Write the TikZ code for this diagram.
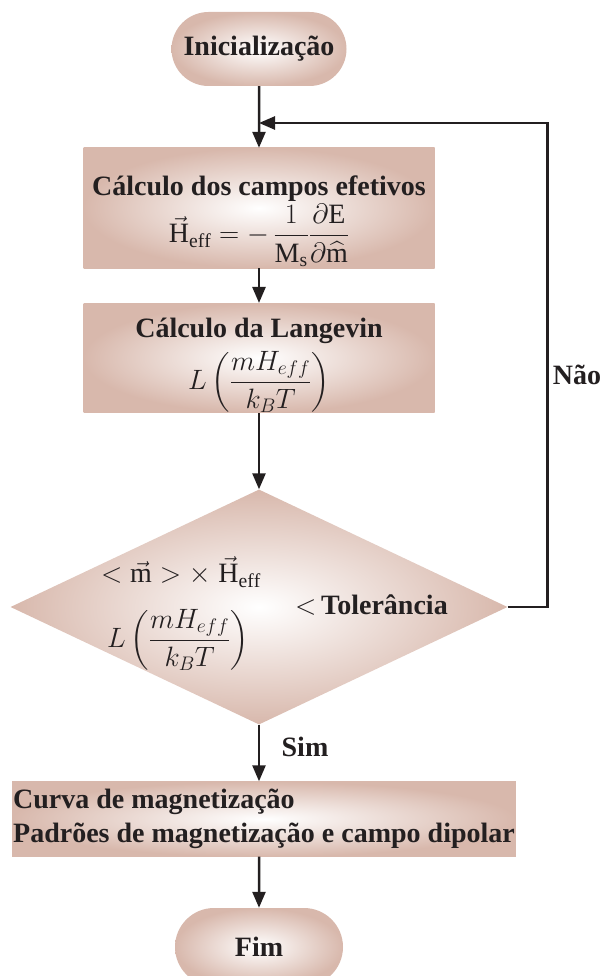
\RequirePackage{fix-cm}
\documentclass[tikz,border=0pt]{standalone}
\usepackage{fontspec}
\setmainfont{Liberation Serif}
\usepackage{amsmath}
\usetikzlibrary{shapes.geometric, shapes.misc, arrows.meta, positioning}

\definecolor{rosa}{RGB}{216,184,172}
\definecolor{tinta}{RGB}{35,31,32}

\tikzset{
  bloco/.style={rectangle, shading=radial, inner color=white, outer color=rosa,
    inner sep=0pt, align=center, text=tinta},
  terminal/.style={bloco, rounded rectangle, minimum width=175pt, minimum height=74pt},
  decisao/.style={bloco, diamond, aspect=2.1, minimum width=497pt, minimum height=235pt},
  seta/.style={line width=2.5pt, draw=tinta, -{Triangle[length=16pt,width=13pt]}},
  rotulo/.style={font=\fontsize{28}{34}\selectfont\bfseries, text=tinta}
}

\begin{document}
\begin{tikzpicture}[x=1pt, y=-1pt, font=\fontsize{28}{34}\selectfont]
\useasboundingbox (0,0) rectangle (605,976);
% Inicio
\node[terminal] (ini) at (259,49) {\bfseries Inicialização};
% Campos efetivos
\node[bloco, minimum width=351pt, minimum height=120pt] (campos) at (259,208)
  {\rule{0pt}{46pt}\textbf{Cálculo dos campos efetivos}\\[2pt]
   $\vec{\mathrm{H}}_{\mathrm{eff}}=-\,\dfrac{1}{\mathrm{M_s}}\dfrac{\partial\mathrm{E}}{\partial\widehat{\mathrm{m}}}$};
% Langevin
\node[bloco, minimum width=351pt, minimum height=103pt] (lang) at (259,358)
  {\rule{0pt}{34pt}\textbf{Cálculo da Langevin}\\[7pt]
   $L\left(\dfrac{mH_{eff}}{k_BT}\right)$};
% Teste de convergencia
\node[decisao] (teste) at (259,607) {};
\node[text=tinta] (prod) at (181,572) {$<\vec{\mathrm{m}}>\times\;\vec{\mathrm{H}}_{\mathrm{eff}}$};
\node[text=tinta] (razao) at (178,640) {$L\left(\dfrac{mH_{eff}}{k_BT}\right)$};
\node[text=tinta, anchor=west, inner sep=0pt] (tol) at (295,605) {$<$\,\textbf{Tolerância}};
% Resultados
\node[bloco, anchor=west, align=left, minimum height=75pt, inner xsep=1pt] (saida) at (12,819)
  {\textbf{Curva de magnetização}\\
   \textbf{Padrões de magnetização e campo dipolar}};
% Fim
\node[terminal, minimum width=168pt, minimum height=78pt] (fim) at (259,947) {\bfseries Fim};
\coordinate (volta) at (259,123);
\node[rotulo] (nao) at (577,375) {Não};
\node[rotulo] (sim) at (305,747) {Sim};
% Setas
\draw[seta] (ini) -- (campos);
\draw[seta] (campos) -- (lang);
\draw[seta] (lang) -- (teste);
\draw[seta] (teste) -- (teste.south |- saida.north);
\draw[seta] (teste.south |- saida.south) -- (fim);
\draw[seta] (teste.east) -- ++(40,0) |- (volta);
\end{tikzpicture}
\end{document}
